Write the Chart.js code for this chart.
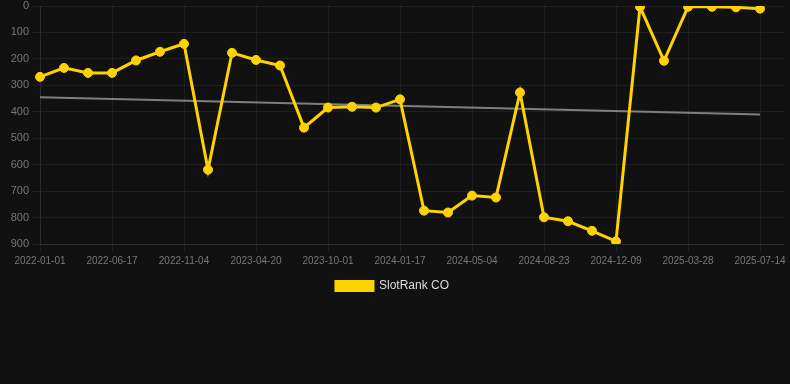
<!DOCTYPE html>
<html>
<head>
<meta charset="utf-8">
<script src="https://cdn.jsdelivr.net/npm/chart.js@4/dist/chart.umd.min.js"></script>
<style>
html, body { margin: 0; padding: 0; background: #111111; }
#wrap { position: relative; width: 790px; height: 302px; }
</style>
</head>
<body>
<div id="wrap"><canvas id="rankChart"></canvas></div>
<script>
// dates of each rank sample
const labels = [
  "2022-01-01","2022-02-25","2022-04-22","2022-06-17","2022-08-01","2022-09-18",
  "2022-11-04","2022-12-30","2023-02-24","2023-04-20","2023-06-14","2023-08-07",
  "2023-10-01","2023-11-06","2023-12-12","2024-01-17","2024-02-22","2024-03-29",
  "2024-05-04","2024-06-10","2024-07-17","2024-08-23","2024-09-28","2024-11-03",
  "2024-12-09","2025-01-14","2025-02-19","2025-03-28","2025-05-04","2025-06-08",
  "2025-07-14","2025-08-19"
]

const rankCO = [
  268, 234, 253, 253, 206, 173, 143, 619, 177, 204, 225, 460,
  384, 381, 384, 353, 774, 781, 717, 724, 327, 799, 814, 850,
  890, 3, 207, 3, 3, 5, 10, null
]

// trend line: start and end only
const trend = [
  345, null, null, null, null, null, null, null, null, null, null, null,
  null, null, null, null, null, null, null, null, null, null, null, null,
  null, null, null, null, null, null, 410, null
]

const yTicks = { min: 0, max: 900, step: 100 }

new Chart(document.getElementById("rankChart"), {
  type: 'line',
  data: {
    labels: labels,
    datasets: [{
      label: "SlotRank CO",
      data: rankCO,
      borderColor: "#ffd200",
      backgroundColor: "#ffd200",
      borderWidth: 3,
      pointRadius: 4.5,
      pointBorderWidth: 1,
      pointHoverRadius: 5,
      tension: 0,
      order: 1
    }, {
      label: "trend",
      data: trend,
      borderColor: "rgba(140,140,140,0.9)",
      borderWidth: 2,
      pointRadius: 0,
      spanGaps: true,
      order: 2
    }]
  },
  options: {
    responsive: true,
    maintainAspectRatio: false,
    animation: false,
    layout: { padding: { left: 0, right: 5, top: 0 } },
    plugins: {
      legend: {
        display: true,
        position: 'bottom',
        labels: {
          color: "#dddddd",
          font: { family: "Liberation Sans", size: 12 },
          boxWidth: 37,
          boxHeight: 9,
          filter: item => item.text !== "trend"
        }
      },
      tooltip: { enabled: false }
    },
    scales: {
      x: {
        grid: { color: "rgba(255,255,255,0.06)" },
        border: { color: "rgba(255,255,255,0.06)" },
        ticks: {
          color: "#777777",
          font: { family: "Liberation Sans", size: 10 },
          maxRotation: 0,
          autoSkip: true,
          maxTicksLimit: 11
        }
      },
      y: {
        reverse: true,
        min: yTicks.min,
        max: yTicks.max,
        afterFit: scale => {
          scale.width = 40
          scale.paddingTop = 6
        },
        grid: { color: "rgba(255,255,255,0.06)" },
        border: { color: "rgba(255,255,255,0.06)" },
        ticks: {
          color: "#777777",
          font: { family: "Liberation Sans", size: 11 },
          stepSize: yTicks.step
        }
      }
    }
  }
})
</script>
</body>
</html>
